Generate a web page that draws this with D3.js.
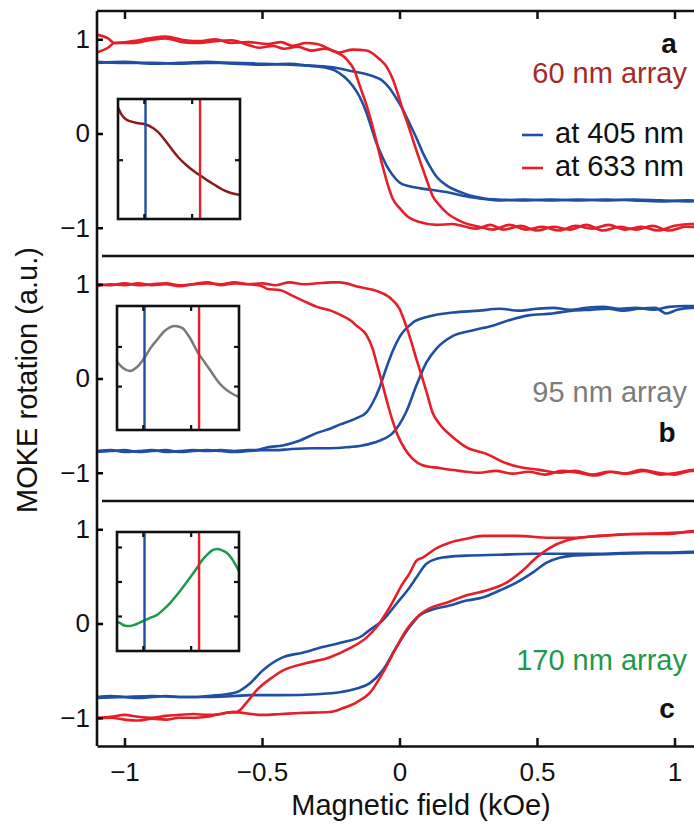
<!DOCTYPE html>
<html>
<head>
  <meta charset="utf-8">
  <title>MOKE hysteresis loops</title>
  <script src="https://d3js.org/d3.v7.min.js"></script>
  <style>
    body { margin: 0; background: #fff; }
    text { font-family: "Liberation Sans", Arial, sans-serif; }
  </style>
</head>
<body>
<script>
  // ---- data ----
  var fieldTicks = [-1, -0.5, 0, 0.5, 1];          // kOe
  var rotTicks = [-1, 0, 1];
  var panelNames = ["a", "b", "c"];
  var arrayNames = ["60 nm array", "95 nm array", "170 nm array"];
  var legendLabels = ["at 405 nm", "at 633 nm"];
  var laserLines = [405, 633];                      // nm, lines in the insets
  var insetTicksX = [400, 600];

  // [field (kOe), MOKE rotation (a.u.)], two branches per loop
  var a405_1 = [[-1.10,0.75],[-1.0,0.76],[-0.9,0.74],[-0.8,0.75],[-0.7,0.76],[-0.6,0.74],[-0.5,0.73],[-0.4,0.74],[-0.33,0.72],[-0.27,0.70],[-0.236,0.67],[-0.2,0.60],[-0.171,0.51],[-0.145,0.39],[-0.12,0.22],[-0.102,0.06],[-0.084,-0.10],[-0.065,-0.23],[-0.047,-0.34],[-0.025,-0.44],[0,-0.52],[0.036,-0.56],[0.073,-0.58],[0.12,-0.60],[0.17,-0.62],[0.23,-0.66],[0.29,-0.69],[0.36,-0.70],[0.45,-0.71],[0.55,-0.70],[0.65,-0.71],[0.75,-0.70],[0.85,-0.71],[0.95,-0.72],[1.05,-0.71],[1.12,-0.72]];
  var a405_2 = [[-1.10,0.76],[-1.0,0.75],[-0.9,0.75],[-0.8,0.74],[-0.7,0.75],[-0.6,0.75],[-0.5,0.74],[-0.4,0.73],[-0.33,0.72],[-0.27,0.71],[-0.218,0.69],[-0.171,0.66],[-0.12,0.63],[-0.098,0.61],[-0.062,0.56],[-0.036,0.48],[-0.011,0.37],[0.011,0.26],[0.036,0.11],[0.062,-0.05],[0.084,-0.20],[0.109,-0.34],[0.138,-0.47],[0.171,-0.55],[0.229,-0.63],[0.29,-0.68],[0.36,-0.71],[0.45,-0.70],[0.55,-0.71],[0.65,-0.70],[0.75,-0.71],[0.85,-0.70],[0.95,-0.71],[1.05,-0.72],[1.12,-0.71]];
  var a633_1 = [[-1.10,1.05],[-1.06,1.01],[-1.036,0.96],[-0.97,0.98],[-0.91,1.01],[-0.85,1.03],[-0.78,0.99],[-0.73,0.98],[-0.67,1.0],[-0.61,0.96],[-0.55,0.97],[-0.48,0.95],[-0.43,0.97],[-0.39,0.93],[-0.34,0.96],[-0.30,0.95],[-0.244,0.88],[-0.193,0.79],[-0.164,0.67],[-0.145,0.51],[-0.12,0.30],[-0.098,0.08],[-0.08,-0.13],[-0.062,-0.34],[-0.044,-0.53],[-0.025,-0.69],[0,-0.79],[0.025,-0.87],[0.073,-0.94],[0.135,-0.97],[0.193,-0.96],[0.24,-0.99],[0.28,-1.01],[0.33,-0.97],[0.38,-1.02],[0.44,-0.98],[0.5,-1.03],[0.56,-0.99],[0.62,-1.02],[0.68,-0.97],[0.74,-1.03],[0.80,-0.99],[0.86,-1.02],[0.92,-0.98],[0.98,-1.03],[1.04,-0.99],[1.12,-1.0]];
  var a633_2 = [[-1.10,0.86],[-1.06,0.91],[-1.036,0.96],[-0.97,0.96],[-0.91,0.99],[-0.85,1.01],[-0.79,0.97],[-0.73,0.96],[-0.67,0.98],[-0.61,0.99],[-0.55,0.94],[-0.51,0.91],[-0.46,0.93],[-0.42,0.90],[-0.37,0.92],[-0.32,0.88],[-0.27,0.90],[-0.22,0.86],[-0.17,0.89],[-0.12,0.88],[-0.073,0.79],[-0.047,0.71],[-0.025,0.58],[-0.007,0.43],[0.011,0.26],[0.029,0.11],[0.047,-0.05],[0.065,-0.21],[0.084,-0.37],[0.102,-0.52],[0.12,-0.66],[0.145,-0.76],[0.171,-0.84],[0.229,-0.94],[0.29,-0.99],[0.34,-1.02],[0.4,-0.97],[0.46,-1.02],[0.52,-0.99],[0.58,-1.03],[0.64,-0.98],[0.70,-1.01],[0.76,-0.97],[0.82,-1.02],[0.88,-0.99],[0.94,-1.03],[1.0,-0.98],[1.06,-0.96],[1.12,-0.98]];

  var b405_1 = [[-1.10,-0.77],[-1.05,-0.76],[-1.0,-0.78],[-0.95,-0.77],[-0.9,-0.76],[-0.85,-0.78],[-0.8,-0.77],[-0.75,-0.76],[-0.7,-0.77],[-0.65,-0.76],[-0.6,-0.77],[-0.55,-0.76],[-0.52,-0.76],[-0.48,-0.73],[-0.425,-0.71],[-0.364,-0.66],[-0.302,-0.58],[-0.25,-0.53],[-0.218,-0.49],[-0.156,-0.42],[-0.12,-0.36],[-0.098,-0.26],[-0.073,-0.10],[-0.047,0.12],[-0.025,0.29],[0,0.44],[0.047,0.59],[0.109,0.66],[0.193,0.70],[0.29,0.72],[0.364,0.74],[0.436,0.72],[0.5,0.74],[0.56,0.75],[0.62,0.73],[0.68,0.75],[0.74,0.76],[0.8,0.74],[0.86,0.75],[0.92,0.73],[0.98,0.76],[1.04,0.77],[1.12,0.76]];
  var b405_2 = [[-1.10,-0.78],[-1.05,-0.77],[-1.0,-0.76],[-0.95,-0.78],[-0.9,-0.77],[-0.85,-0.76],[-0.8,-0.78],[-0.75,-0.77],[-0.7,-0.76],[-0.65,-0.77],[-0.6,-0.78],[-0.55,-0.77],[-0.5,-0.76],[-0.45,-0.76],[-0.4,-0.75],[-0.316,-0.74],[-0.25,-0.74],[-0.193,-0.73],[-0.135,-0.71],[-0.073,-0.66],[-0.025,-0.58],[0.025,-0.35],[0.062,-0.07],[0.098,0.17],[0.135,0.32],[0.193,0.45],[0.265,0.51],[0.338,0.56],[0.411,0.63],[0.47,0.67],[0.556,0.69],[0.629,0.72],[0.7,0.73],[0.76,0.74],[0.81,0.72],[0.87,0.74],[0.93,0.75],[0.97,0.69],[1.01,0.73],[1.06,0.75],[1.12,0.74]];
  var b633_1 = [[-1.10,1.0],[-1.05,0.99],[-1.0,1.01],[-0.95,0.99],[-0.9,1.0],[-0.85,1.01],[-0.8,0.99],[-0.75,1.0],[-0.7,1.02],[-0.65,0.99],[-0.6,1.01],[-0.55,1.0],[-0.5,0.98],[-0.48,0.95],[-0.436,0.94],[-0.39,0.88],[-0.34,0.81],[-0.30,0.76],[-0.25,0.72],[-0.218,0.68],[-0.18,0.62],[-0.156,0.56],[-0.12,0.46],[-0.098,0.32],[-0.08,0.13],[-0.062,-0.06],[-0.044,-0.26],[-0.025,-0.45],[-0.007,-0.60],[0.018,-0.74],[0.047,-0.85],[0.084,-0.92],[0.145,-0.95],[0.218,-0.98],[0.29,-1.0],[0.35,-0.98],[0.41,-1.01],[0.47,-0.99],[0.53,-1.02],[0.59,-0.98],[0.65,-1.0],[0.71,-1.03],[0.77,-0.99],[0.83,-1.01],[0.89,-0.98],[0.95,-1.02],[1.01,-1.0],[1.07,-0.97],[1.12,-1.0]];
  var b633_2 = [[-1.10,0.98],[-1.05,1.0],[-1.0,0.99],[-0.95,1.01],[-0.9,0.99],[-0.85,1.0],[-0.8,0.98],[-0.75,1.0],[-0.7,1.01],[-0.65,1.0],[-0.6,1.02],[-0.55,1.0],[-0.5,1.01],[-0.45,0.99],[-0.4,1.02],[-0.35,1.0],[-0.30,1.01],[-0.25,1.02],[-0.218,1.02],[-0.145,0.97],[-0.084,0.93],[-0.036,0.86],[0,0.74],[0.025,0.55],[0.047,0.35],[0.062,0.20],[0.073,0.10],[0.098,-0.14],[0.12,-0.36],[0.145,-0.48],[0.193,-0.62],[0.244,-0.73],[0.316,-0.80],[0.389,-0.90],[0.436,-0.94],[0.509,-0.97],[0.58,-1.0],[0.64,-0.98],[0.70,-1.02],[0.76,-0.99],[0.82,-1.01],[0.88,-0.97],[0.94,-1.0],[1.0,-1.02],[1.06,-0.98],[1.12,-0.99]];

  var c405_1 = [[-1.10,-0.78],[-1.05,-0.77],[-1.0,-0.78],[-0.95,-0.79],[-0.9,-0.78],[-0.85,-0.77],[-0.8,-0.78],[-0.75,-0.78],[-0.7,-0.77],[-0.655,-0.76],[-0.593,-0.73],[-0.545,-0.64],[-0.498,-0.50],[-0.425,-0.36],[-0.353,-0.31],[-0.28,-0.25],[-0.207,-0.20],[-0.135,-0.13],[-0.109,-0.07],[-0.062,0.03],[-0.011,0.21],[0.036,0.38],[0.062,0.49],[0.098,0.635],[0.156,0.70],[0.244,0.72],[0.364,0.73],[0.484,0.74],[0.607,0.74],[0.727,0.74],[0.847,0.75],[0.971,0.75],[1.065,0.76],[1.12,0.76]];
  var c405_2 = [[-1.10,-0.79],[-1.0,-0.78],[-0.9,-0.77],[-0.8,-0.78],[-0.7,-0.78],[-0.6,-0.77],[-0.545,-0.76],[-0.425,-0.76],[-0.302,-0.75],[-0.218,-0.73],[-0.156,-0.69],[-0.109,-0.635],[-0.062,-0.50],[-0.011,-0.25],[0.036,-0.04],[0.073,0.085],[0.12,0.148],[0.182,0.19],[0.244,0.243],[0.302,0.275],[0.364,0.35],[0.425,0.434],[0.484,0.54],[0.535,0.646],[0.582,0.698],[0.629,0.72],[0.7,0.73],[0.8,0.74],[0.9,0.75],[1.0,0.75],[1.12,0.76]];
  var c633_1 = [[-1.10,-1.0],[-1.05,-0.99],[-1.0,-0.97],[-0.95,-0.99],[-0.9,-1.0],[-0.85,-0.98],[-0.8,-0.97],[-0.75,-0.96],[-0.7,-0.97],[-0.65,-0.96],[-0.607,-0.94],[-0.593,-0.94],[-0.556,-0.84],[-0.52,-0.71],[-0.462,-0.57],[-0.425,-0.50],[-0.338,-0.42],[-0.255,-0.36],[-0.182,-0.265],[-0.12,-0.15],[-0.084,-0.04],[-0.036,0.17],[0.011,0.42],[0.036,0.53],[0.062,0.667],[0.084,0.70],[0.135,0.80],[0.182,0.857],[0.244,0.90],[0.302,0.93],[0.425,0.93],[0.545,0.91],[0.629,0.91],[0.727,0.93],[0.847,0.95],[0.971,0.95],[1.065,0.98],[1.12,0.99]];
  var c633_2 = [[-1.10,-1.01],[-1.05,-1.0],[-1.0,-1.02],[-0.95,-1.03],[-0.9,-1.01],[-0.85,-1.02],[-0.8,-1.0],[-0.75,-1.0],[-0.7,-0.99],[-0.607,-0.94],[-0.5,-0.97],[-0.43,-0.96],[-0.364,-0.95],[-0.255,-0.94],[-0.207,-0.90],[-0.156,-0.836],[-0.109,-0.74],[-0.062,-0.53],[-0.011,-0.25],[0.025,-0.07],[0.062,0.063],[0.109,0.16],[0.171,0.22],[0.244,0.30],[0.316,0.35],[0.389,0.434],[0.447,0.56],[0.498,0.70],[0.545,0.80],[0.607,0.88],[0.655,0.91],[0.73,0.93],[0.85,0.95],[0.97,0.96],[1.12,0.98]];

  // inset spectra: [wavelength (nm), relative value 0..1]
  var specA = [[290,0.93],[305,0.87],[320,0.835],[340,0.815],[370,0.80],[403,0.79],[436,0.758],[460,0.72],[486,0.658],[512,0.59],[541,0.517],[575,0.45],[612,0.392],[637,0.358],[665,0.32],[695,0.283],[722,0.25],[750,0.225],[775,0.21],[800,0.20]];
  var specB = [[290,0.55],[315,0.50],[344,0.476],[374,0.508],[407,0.589],[430,0.66],[457,0.726],[490,0.80],[532,0.839],[562,0.823],[595,0.742],[629,0.621],[655,0.55],[679,0.484],[705,0.41],[733,0.347],[765,0.30],[800,0.266]];
  var specC = [[290,0.244],[303,0.235],[320,0.215],[344,0.21],[370,0.225],[399,0.252],[430,0.28],[457,0.303],[485,0.35],[512,0.403],[540,0.47],[566,0.538],[595,0.615],[624,0.697],[645,0.76],[666,0.807],[688,0.845],[708,0.857],[730,0.845],[750,0.824],[772,0.77],[792,0.70],[800,0.67]];
  var insetTicksY = [[0.49], [0.35, 0.67], [0.29, 0.58, 0.87]];

  // ---- layout ----
  var width = 694, height = 830;
  var panelTop = [11, 256, 501], panelH = 245;
  var left = 97, right = 746;
  var insetBox = [
    { x: 118, y: 99, w: 122, h: 120 },
    { x: 117, y: 306, w: 122, h: 124 },
    { x: 117, y: 532, w: 122, h: 119 }
  ];
  var blue = "#1f4fa3", red = "#e61e28";
  var labelColors = ["#a32a2a", "#7c7c7c", "#1b9a4c"];
  var specColors = ["#8b1c1c", "#7a7a7a", "#1b9a4c"];

  var loops = [
    [a405_1, a405_2, a633_1, a633_2],
    [b405_1, b405_2, b633_1, b633_2],
    [c405_1, c405_2, c633_1, c633_2]
  ];
  var specs = [specA, specB, specC];

  var svg = d3.select("body").append("svg")
    .attr("width", width).attr("height", height);

  var xScale = d3.scaleLinear().domain([-1.1, 1.26]).range([left, right]);
  var fmt = function (d) { return d < 0 ? "\u2212" + Math.abs(d) : String(d); };

  panelNames.forEach(function (name, i) {
    var top = panelTop[i];
    var yScale = d3.scaleLinear().domain([-1.3, 1.3]).range([top + panelH, top]);

    svg.append("clipPath").attr("id", "clip" + i)
      .append("rect").attr("x", left).attr("y", top).attr("width", right - left).attr("height", panelH);

    var line = d3.line()
      .curve(d3.curveMonotoneX)
      .x(function (d) { return xScale(d[0]); })
      .y(function (d) { return yScale(d[1]); });

    var g = svg.append("g").attr("clip-path", "url(#clip" + i + ")");
    loops[i].forEach(function (branch, k) {
      g.append("path")
        .datum(branch)
        .attr("d", line)
        .attr("fill", "none")
        .attr("stroke", k < 2 ? blue : red)
        .attr("stroke-width", 2.6)
        .attr("stroke-linejoin", "round");
    });

    // left axis ticks and labels
    var yAxis = svg.append("g")
      .attr("transform", "translate(" + left + ",0)")
      .call(d3.axisLeft(yScale).tickValues(rotTicks).tickFormat(fmt)
        .tickSizeInner(-6).tickSizeOuter(0).tickPadding(7));
    yAxis.select(".domain").remove();
    yAxis.selectAll(".tick line").attr("stroke-width", 2.5);
    yAxis.selectAll("text").attr("font-size", 26).attr("fill", "#111")
      .style("font-family", '"Liberation Sans", Arial, sans-serif');

    // inset
    var box = insetBox[i];
    var lx = d3.scaleLinear().domain([290, 800]).range([0, box.w]);
    var ly = d3.scaleLinear().domain([0, 1]).range([box.h, 0]);
    var ig = svg.append("g").attr("transform", "translate(" + box.x + "," + box.y + ")");
    ig.append("rect").attr("width", box.w).attr("height", box.h).attr("fill", "#fff");
    ig.append("path")
      .datum(specs[i])
      .attr("d", d3.line().curve(d3.curveMonotoneX)
        .x(function (d) { return lx(d[0]); })
        .y(function (d) { return ly(d[1]); }))
      .attr("fill", "none").attr("stroke", specColors[i]).attr("stroke-width", 2.5);
    ig.selectAll(".laser").data(laserLines).enter().append("line")
      .attr("x1", function (d) { return lx(d); }).attr("x2", function (d) { return lx(d); })
      .attr("y1", 0).attr("y2", box.h)
      .attr("stroke", function (d, j) { return j === 0 ? blue : red; })
      .attr("stroke-width", 2.4);
    insetTicksX.forEach(function (t) {
      ig.append("line").attr("x1", lx(t)).attr("x2", lx(t)).attr("y1", 0).attr("y2", 5)
        .attr("stroke", "#111").attr("stroke-width", 2.2);
      ig.append("line").attr("x1", lx(t)).attr("x2", lx(t)).attr("y1", box.h).attr("y2", box.h - 5)
        .attr("stroke", "#111").attr("stroke-width", 2.2);
    });
    insetTicksY[i].forEach(function (t) {
      ig.append("line").attr("x1", 0).attr("x2", 5).attr("y1", ly(t)).attr("y2", ly(t))
        .attr("stroke", "#111").attr("stroke-width", 2.2);
      ig.append("line").attr("x1", box.w).attr("x2", box.w - 5).attr("y1", ly(t)).attr("y2", ly(t))
        .attr("stroke", "#111").attr("stroke-width", 2.2);
    });
    ig.append("rect").attr("width", box.w).attr("height", box.h)
      .attr("fill", "none").attr("stroke", "#111").attr("stroke-width", 2.6);

    // panel separator
    if (i > 0) {
      svg.append("line").attr("x1", left + 5).attr("x2", right)
        .attr("y1", top).attr("y2", top)
        .attr("stroke", "#111").attr("stroke-width", 2.6);
    }
  });

  // frame: left axis, top and bottom
  svg.append("line").attr("x1", left).attr("x2", left)
    .attr("y1", panelTop[0]).attr("y2", panelTop[2] + panelH)
    .attr("stroke", "#111").attr("stroke-width", 2.6);
  svg.append("line").attr("x1", left).attr("x2", right)
    .attr("y1", panelTop[0]).attr("y2", panelTop[0])
    .attr("stroke", "#111").attr("stroke-width", 2.6);

  var bottomAxis = svg.append("g")
    .attr("transform", "translate(0," + (panelTop[2] + panelH) + ")")
    .call(d3.axisBottom(xScale).tickValues(fieldTicks).tickFormat(fmt)
      .tickSizeInner(-8).tickSizeOuter(0).tickPadding(17));
  bottomAxis.select(".domain").attr("stroke-width", 2.6).attr("stroke", "#111");
  bottomAxis.selectAll(".tick line").attr("stroke-width", 2.5).attr("stroke", "#111");
  bottomAxis.selectAll("text").attr("font-size", 26).attr("fill", "#111")
    .style("font-family", '"Liberation Sans", Arial, sans-serif');

  var topAxis = svg.append("g")
    .attr("transform", "translate(0," + panelTop[0] + ")")
    .call(d3.axisTop(xScale).tickValues(fieldTicks).tickFormat("")
      .tickSizeInner(-8).tickSizeOuter(0));
  topAxis.select(".domain").remove();
  topAxis.selectAll(".tick line").attr("stroke-width", 2.5).attr("stroke", "#111");

  // axis titles
  svg.append("text").attr("x", 421).attr("y", 815)
    .attr("text-anchor", "middle").attr("font-size", 29).attr("fill", "#111")
    .text("Magnetic field (kOe)");
  svg.append("text")
    .attr("transform", "translate(37,380) rotate(-90)")
    .attr("text-anchor", "middle").attr("font-size", 29).attr("fill", "#111")
    .text("MOKE rotation (a.u.)");

  // panel letters and array names
  var letterPos = [[669, 53], [667, 442], [667, 718]];
  var namePos = [[687, 83], [687, 402], [687, 670]];
  panelNames.forEach(function (name, i) {
    svg.append("text").attr("x", letterPos[i][0]).attr("y", letterPos[i][1])
      .attr("text-anchor", "middle").attr("font-size", 28).attr("font-weight", "bold")
      .attr("fill", "#111").text(name);
    svg.append("text").attr("x", namePos[i][0]).attr("y", namePos[i][1])
      .attr("text-anchor", "end").attr("font-size", 29).attr("fill", labelColors[i])
      .text(arrayNames[i]);
  });

  // legend
  var legend = svg.append("g");
  legendLabels.forEach(function (lab, j) {
    var ly = 135 + j * 33;
    legend.append("line").attr("x1", 522).attr("x2", 543).attr("y1", ly).attr("y2", ly)
      .attr("stroke", j === 0 ? blue : red).attr("stroke-width", 2.6);
    legend.append("text").attr("x", 555).attr("y", ly + 8)
      .attr("font-size", 29).attr("fill", "#111").text(lab);
  });
</script>
</body>
</html>
